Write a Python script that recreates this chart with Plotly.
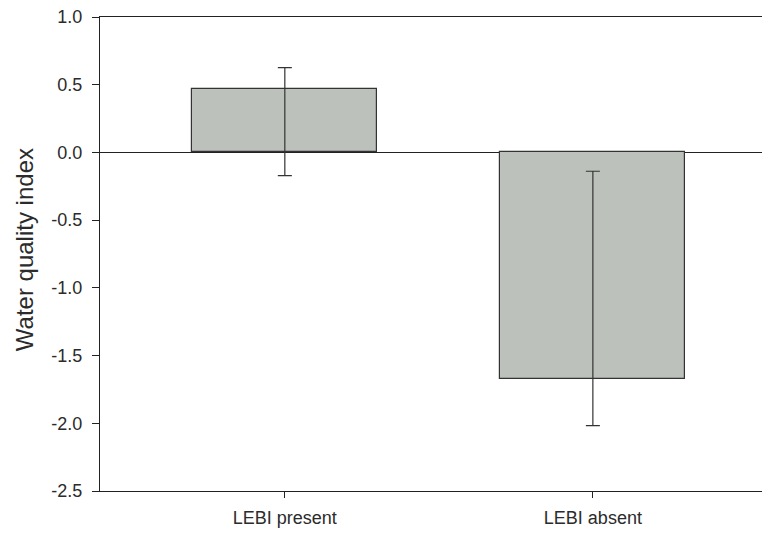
import plotly.graph_objects as go

categories = ["LEBI present", "LEBI absent"]
means = [0.47, -1.675]
err_top = [0.626, -0.139]
err_bottom = [-0.171, -2.018]
y_ticks = [1.0, 0.5, 0.0, -0.5, -1.0, -1.5, -2.0, -2.5]

err_plus = [t - m for t, m in zip(err_top, means)]
err_minus = [m - b for m, b in zip(means, err_bottom)]

FONT = "Liberation Sans, Arial, sans-serif"
DARK = "#2b2b2b"

fig = go.Figure()
fig.add_trace(go.Bar(
    x=categories,
    y=means,
    width=0.6,
    marker=dict(color="#bcc1bc", line=dict(color="#333333", width=1.2)),
    error_y=dict(type="data", symmetric=False, array=err_plus, arrayminus=err_minus,
                 color="#333333", thickness=1.2, width=7),
    showlegend=False,
))

fig.update_layout(
    width=770, height=536,
    margin=dict(l=92, r=8, t=9, b=53, autoexpand=False),
    plot_bgcolor="white", paper_bgcolor="white",
    font=dict(family=FONT, color=DARK, size=18),
    bargap=0,
    annotations=[dict(
        text="Water quality index", textangle=-90,
        xref="paper", yref="paper", x=-0.1134, y=0.508,
        xanchor="center", yanchor="middle", showarrow=False,
        font=dict(size=24, family=FONT, color=DARK),
    )],
)
fig.update_xaxes(
    type="category",
    range=[-0.6, 1.575],
    automargin=False,
    showline=True, linecolor="#222222", linewidth=1.3, mirror=True,
    ticks="outside", ticklen=6, tickwidth=1, tickcolor="#222222",
    ticklabelstandoff=4,
    tickfont=dict(size=18, family=FONT, color=DARK),
    showgrid=False, zeroline=False,
)
fig.update_yaxes(
    range=[-2.5, 1.0],
    automargin=False,
    tickvals=y_ticks,
    ticktext=[f"{v:.1f}" for v in y_ticks],
    showline=True, linecolor="#222222", linewidth=1.3,
    ticks="outside", ticklen=7, tickwidth=1, tickcolor="#222222",
    ticklabelstandoff=6,
    ticklabeloverflow="allow",
    tickfont=dict(size=18, family=FONT, color=DARK),
    showgrid=False,
    zeroline=True, zerolinecolor="#222222", zerolinewidth=1.3,
)

fig.write_html("out.html")
